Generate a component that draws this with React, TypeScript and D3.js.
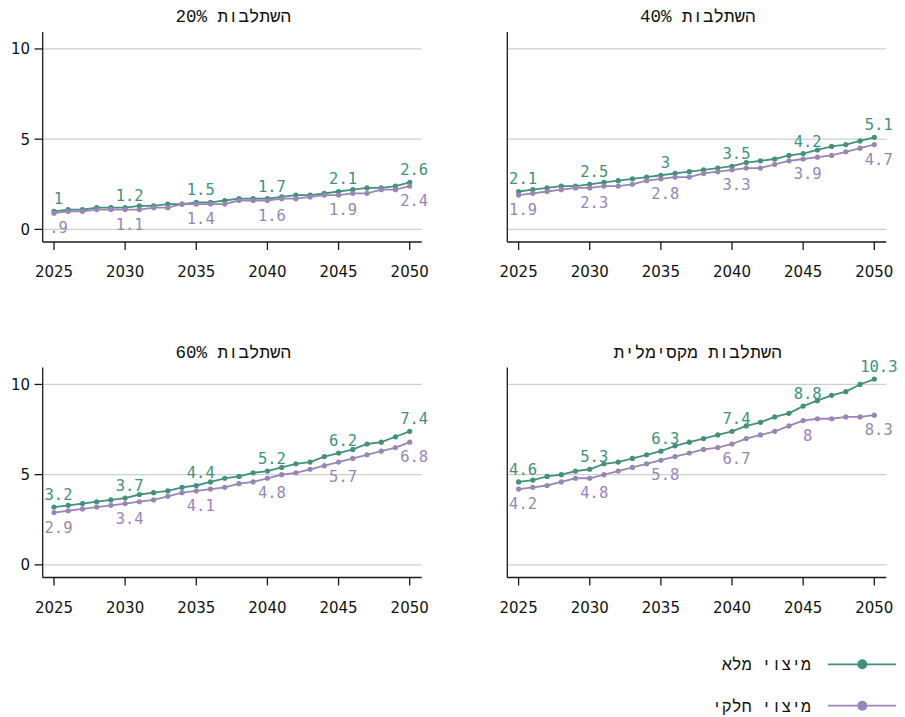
import React from 'react'
import * as d3 from 'd3'

// years on the x axis
const years = d3.range(2025, 2051)
const labelYears = [2025, 2030, 2035, 2040, 2045, 2050]
const xTicks = [2025, 2030, 2035, 2040, 2045, 2050]
const yTicks = [0, 5, 10]

const panelTitles = ['השתלבות 20%', 'השתלבות 40%', 'השתלבות 60%', 'השתלבות מקסימלית']
const seriesNames = ['מיצוי מלא', 'מיצוי חלקי']

// full utilisation (green)
const full20 = [1.0, 1.1, 1.1, 1.2, 1.2, 1.2, 1.3, 1.3, 1.4, 1.4, 1.5, 1.5, 1.6, 1.7, 1.7, 1.7, 1.8, 1.9, 1.9, 2.0, 2.1, 2.2, 2.3, 2.3, 2.4, 2.6]
const full40 = [2.1, 2.2, 2.3, 2.4, 2.4, 2.5, 2.6, 2.7, 2.8, 2.9, 3.0, 3.1, 3.2, 3.3, 3.4, 3.5, 3.7, 3.8, 3.9, 4.1, 4.2, 4.4, 4.6, 4.7, 4.9, 5.1]
const full60 = [3.2, 3.3, 3.4, 3.5, 3.6, 3.7, 3.9, 4.0, 4.1, 4.3, 4.4, 4.6, 4.8, 4.9, 5.1, 5.2, 5.4, 5.6, 5.7, 6.0, 6.2, 6.4, 6.7, 6.8, 7.1, 7.4]
const fullMax = [4.6, 4.7, 4.9, 5.0, 5.2, 5.3, 5.6, 5.7, 5.9, 6.1, 6.3, 6.6, 6.8, 7.0, 7.2, 7.4, 7.7, 7.9, 8.2, 8.4, 8.8, 9.1, 9.4, 9.6, 10.0, 10.3]

// partial utilisation (purple)
const part20 = [0.9, 1.0, 1.0, 1.1, 1.1, 1.1, 1.1, 1.2, 1.2, 1.4, 1.4, 1.4, 1.4, 1.6, 1.6, 1.6, 1.7, 1.7, 1.8, 1.9, 1.9, 2.0, 2.0, 2.2, 2.2, 2.4]
const part40 = [1.9, 2.0, 2.1, 2.2, 2.3, 2.3, 2.4, 2.4, 2.5, 2.7, 2.8, 2.9, 2.9, 3.1, 3.2, 3.3, 3.4, 3.4, 3.6, 3.8, 3.9, 4.0, 4.1, 4.3, 4.5, 4.7]
const part60 = [2.9, 3.0, 3.1, 3.2, 3.3, 3.4, 3.5, 3.6, 3.8, 4.0, 4.1, 4.2, 4.3, 4.5, 4.6, 4.8, 5.0, 5.1, 5.3, 5.5, 5.7, 5.9, 6.1, 6.3, 6.5, 6.8]
const partMax = [4.2, 4.3, 4.4, 4.6, 4.8, 4.8, 5.0, 5.2, 5.4, 5.6, 5.8, 6.0, 6.2, 6.4, 6.5, 6.7, 7.0, 7.2, 7.4, 7.7, 8.0, 8.1, 8.1, 8.2, 8.2, 8.3]

const fullSeries = [full20, full40, full60, fullMax]
const partSeries = [part20, part40, part60, partMax]

const GREEN = '#43917b'
const PURPLE = '#9a86b6'
const colors = [GREEN, PURPLE]

const W = 905
const H = 717
const sansFont = '"DejaVu Sans", sans-serif'
const monoFont = '"DejaVu Sans Mono", monospace'
const hebFont = '"Liberation Mono", "DejaVu Sans Mono", monospace'

// panel geometry (left, top offsets of each panel)
const panelX = [0, 464.6]
const panelY = [0, 335.5]
const plotLeft = 42.7
const plotRight = 421.7
const plotTop = 32
const plotBottom = 242

// wrap in a right-to-left embedding so "20%" sits left of the Hebrew word
const rtl = (s: string) => '\u202B' + s + '\u202C'

const fmt = (v: number) => {
  const s = d3.format('.1~f')(v)
  return s.startsWith('0.') ? s.slice(1) : s
}

function Panel({ idx }: { idx: number }) {
  const ox = panelX[idx % 2]
  const oy = panelY[Math.floor(idx / 2)]

  const x = d3.scaleLinear().domain([2025, 2050]).range([54, 409.7])
  const y = d3.scaleLinear().domain([-0.7, 10.94]).range([plotBottom, plotTop])

  const line = d3.line<number>()
    .x((_, i) => x(years[i]))
    .y(d => y(d))

  const series = [fullSeries[idx], partSeries[idx]]

  return (
    <g transform={`translate(${ox},${oy})`}>
      {/* title */}
      <text
        x={(plotLeft + plotRight) / 2 + 1}
        y={22}
        textAnchor="middle"
        fontFamily={hebFont}
        fontSize={17.5}
        fill="#111"
      >
        {rtl(panelTitles[idx])}
      </text>

      {/* grid lines */}
      {yTicks.map(t => (
        <line key={t} x1={plotLeft} x2={plotRight} y1={y(t)} y2={y(t)} stroke="#cfcfcf" strokeWidth={1.3} />
      ))}

      {/* axes */}
      <line x1={plotLeft} x2={plotLeft} y1={plotTop} y2={plotBottom} stroke="#1a1a1a" strokeWidth={1.3} />
      <line x1={plotLeft} x2={plotRight} y1={plotBottom} y2={plotBottom} stroke="#1a1a1a" strokeWidth={1.3} />

      {/* y ticks, only on the left column */}
      {idx % 2 === 0 && yTicks.map(t => (
        <g key={t}>
          <line x1={34.5} x2={plotLeft} y1={y(t)} y2={y(t)} stroke="#1a1a1a" strokeWidth={1.3} />
          <text x={30} y={y(t)} dy="0.36em" textAnchor="end" fontFamily={sansFont} fontSize={15} fill="#111">
            {t}
          </text>
        </g>
      ))}

      {/* x ticks */}
      {xTicks.map(t => (
        <g key={t}>
          <line x1={x(t)} x2={x(t)} y1={plotBottom} y2={plotBottom + 8} stroke="#1a1a1a" strokeWidth={1.3} />
          <text x={x(t)} y={277} textAnchor="middle" fontFamily={sansFont} fontSize={15} fill="#111">
            {t}
          </text>
        </g>
      ))}

      {/* lines */}
      {series.map((s, si) => (
        <g key={si}>
          <path d={line(s) ?? ''} fill="none" stroke={colors[si]} strokeWidth={1.8} />
          {s.map((v, i) => (
            <circle key={i} cx={x(years[i])} cy={y(v)} r={2.6} fill={colors[si]} />
          ))}
        </g>
      ))}

      {/* value labels */}
      {series.map((s, si) =>
        labelYears.map(yr => {
          const v = s[years.indexOf(yr)]
          return (
            <text
              key={`${si}-${yr}`}
              x={x(yr) + 4.5}
              y={si === 0 ? y(v) - 7 : y(v) + 20}
              textAnchor="middle"
              fontFamily={monoFont}
              fontSize={15.5}
              fill={colors[si]}
            >
              {fmt(v)}
            </text>
          )
        })
      )}
    </g>
  )
}

function Legend() {
  const rows = [664.3, 705.7]
  return (
    <g>
      {seriesNames.map((name, i) => (
        <g key={name}>
          <line x1={828} x2={896} y1={rows[i]} y2={rows[i]} stroke={colors[i]} strokeWidth={1.8} />
          <circle cx={862.3} cy={rows[i]} r={5} fill={colors[i]} />
          <text
            x={811}
            y={rows[i]}
            dy="0.36em"
            textAnchor="end"
            fontFamily={hebFont}
            fontSize={16.5}
            fill="#111"
          >
            {name}
          </text>
        </g>
      ))}
    </g>
  )
}

export default function App() {
  return (
    <svg
      width={W}
      height={H}
      style={{ position: 'absolute', left: 0, top: 0, background: '#fff' }}
    >
      <rect width={W} height={H} fill="#fff" />
      {[0, 1, 2, 3].map(i => <Panel key={i} idx={i} />)}
      <Legend />
    </svg>
  )
}
